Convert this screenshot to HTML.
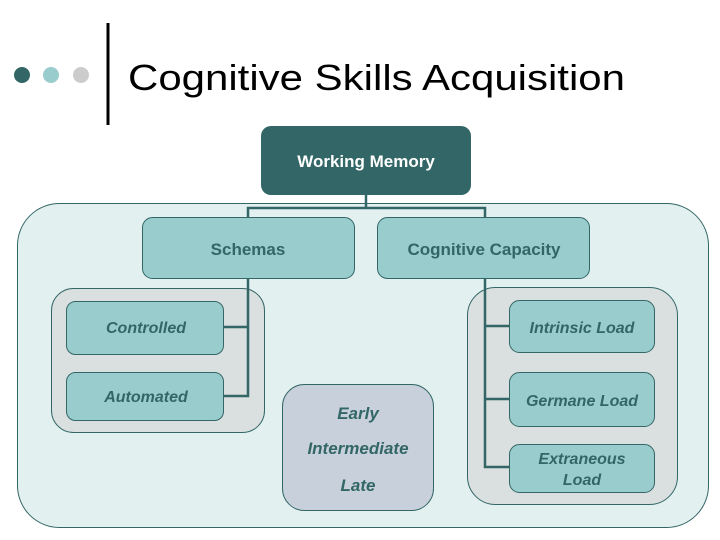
<!DOCTYPE html>
<html><head><meta charset="utf-8"><style>
html,body{margin:0;padding:0;background:#fff;}
svg{display:block;font-family:"Liberation Sans",Arial,sans-serif;}
</style></head><body>
<svg width="720" height="540" viewBox="0 0 720 540" xmlns="http://www.w3.org/2000/svg">
<circle cx="22" cy="75" r="8" fill="#336666"/>
<circle cx="51" cy="75" r="8" fill="#99cccc"/>
<circle cx="81" cy="75" r="8" fill="#cccccc"/>
<line x1="108" y1="23" x2="108" y2="125" stroke="#000" stroke-width="3"/>
<text x="128" y="90" font-size="36" textLength="497" lengthAdjust="spacingAndGlyphs" fill="#000">Cognitive Skills Acquisition</text>

<rect x="17.5" y="203.5" width="691" height="324" rx="42" fill="#e3f0f0" stroke="#336666" stroke-width="1"/>

<!-- connectors -->
<g stroke="#336666" stroke-width="2.5" fill="none">
<polyline points="366,195 366,208"/>
<polyline points="248,217 248,208 485,208 485,217"/>
</g>

<rect x="261" y="126" width="210" height="69" rx="10" fill="#336666"/>
<text x="366" y="167" font-size="17" font-weight="bold" fill="#fff" text-anchor="middle">Working Memory</text>

<rect x="142.5" y="217.5" width="212" height="61" rx="10" fill="#99cccc" stroke="#336666"/>
<text x="248" y="255" font-size="17" font-weight="bold" fill="#336666" text-anchor="middle">Schemas</text>
<rect x="377.5" y="217.5" width="212" height="61" rx="10" fill="#99cccc" stroke="#336666"/>
<text x="484" y="255" font-size="17" font-weight="bold" fill="#336666" text-anchor="middle">Cognitive Capacity</text>

<rect x="51.5" y="288.5" width="213" height="144" rx="22" fill="#dadfdf" stroke="#336666"/>
<rect x="467.5" y="287.5" width="210" height="217" rx="28" fill="#dadfdf" stroke="#336666"/>

<g stroke="#336666" stroke-width="2.5" fill="none">
<polyline points="248,278 248,396 223,396"/>
<line x1="248" y1="327" x2="223" y2="327"/>
<polyline points="485,278 485,467 509,467"/>
<line x1="485" y1="326" x2="509" y2="326"/>
<line x1="485" y1="399" x2="509" y2="399"/>
</g>

<g font-size="16" font-weight="bold" font-style="italic" fill="#336666" text-anchor="middle">
<rect x="66.5" y="301.5" width="157" height="53" rx="9" fill="#99cccc" stroke="#336666"/>
<text x="146" y="333">Controlled</text>
<rect x="66.5" y="372.5" width="157" height="48" rx="9" fill="#99cccc" stroke="#336666"/>
<text x="146" y="402">Automated</text>

<rect x="282.5" y="384.5" width="151" height="126" rx="22" fill="#c8d0db" stroke="#336666"/>
<text x="358" y="419" font-size="17">Early</text>
<text x="358" y="454" font-size="17">Intermediate</text>
<text x="358" y="491" font-size="17">Late</text>

<rect x="509.5" y="300.5" width="145" height="52" rx="10" fill="#99cccc" stroke="#336666"/>
<text x="582" y="333">Intrinsic Load</text>
<rect x="509.5" y="372.5" width="145" height="54" rx="10" fill="#99cccc" stroke="#336666"/>
<text x="582" y="406">Germane Load</text>
<rect x="509.5" y="444.5" width="145" height="48" rx="10" fill="#99cccc" stroke="#336666"/>
<text x="582" y="464">Extraneous</text>
<text x="582" y="485">Load</text>
</g>
</svg>
</body></html>
